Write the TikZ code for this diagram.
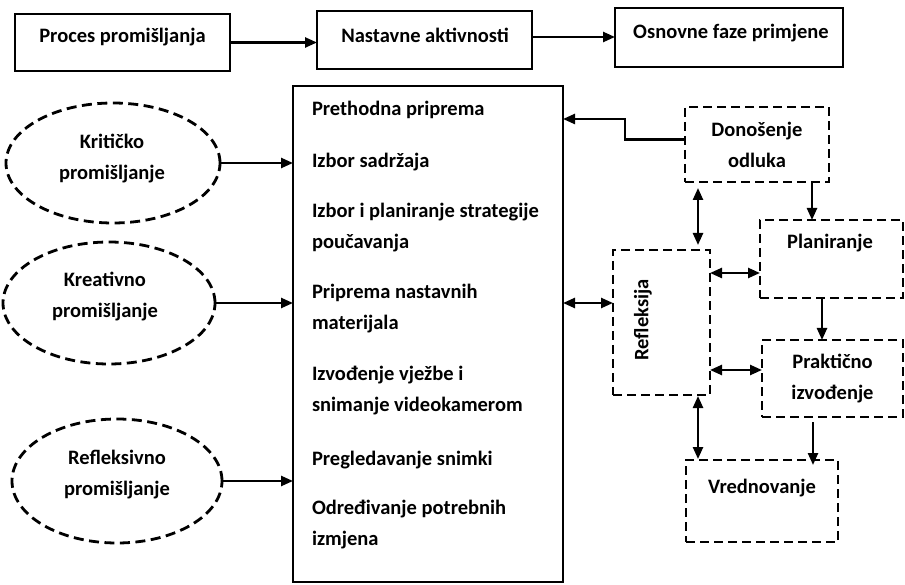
\documentclass[tikz,border=0pt]{standalone}
\usepackage{fontspec}
\setmainfont{Carlito}
\usetikzlibrary{arrows.meta,shapes.geometric}
\begin{document}
\begin{tikzpicture}[x=1pt,y=-1pt,
  every node/.style={font=\fontsize{20.5}{31}\selectfont\bfseries, inner sep=0pt, outer sep=0pt},
  solidbox/.style={draw, line width=2.6pt, rectangle},
  dbox/.style={draw, line width=2.7pt, dash pattern=on 9pt off 5pt, rectangle},
  oval/.style={draw, ellipse, line width=2.8pt, dash pattern=on 10pt off 5.5pt},
  conn/.style={line width=2.4pt, -{Triangle[length=12pt,width=10pt]}},
  dconn/.style={line width=2.4pt, {Triangle[length=12pt,width=10pt]}-{Triangle[length=12pt,width=10pt]}},
  lbl/.style={align=center},
  item/.style={anchor=west, align=left}
]
\useasboundingbox (0,0) rectangle (905,585);

% top row
\node[solidbox, minimum width=215pt, minimum height=57pt] (b1) at (122.5,42.5) {};
\node (t1) at (122.5,37) {Proces promišljanja};
\node[solidbox, minimum width=215pt, minimum height=58pt] (b2) at (424.5,40) {};
\node (t2) at (425,35) {Nastavne aktivnosti};
\node[solidbox, minimum width=228pt, minimum height=59pt] (b3) at (729,37.5) {};
\node (t3) at (731,33) {Osnovne faze primjene};
\draw[conn] (b1.east) -- (b1.east -| b2.west);
\draw[conn] ([yshift=3pt]b2.east) -- ([yshift=3pt]b2.east -| b3.west);

% main box
\node[solidbox, line width=2.9pt, minimum width=270pt, minimum height=496pt] (main) at (428,334) {};
\node[item] (i1) at (312,110) {Prethodna priprema};
\node[item] (i2) at (312,162) {Izbor sadržaja};
\node[item] (i3) at (312,228) {Izbor i planiranje strategije\\poučavanja};
\node[item] (i4) at (312,309) {Priprema nastavnih\\materijala};
\node[item] (i5) at (312,391) {Izvođenje vježbe i\\snimanje videokamerom};
\node[item] (i6) at (312,460) {Pregledavanje snimki};
\node[item] (i7) at (312,525) {Određivanje potrebnih\\izmjena};

% ellipses
\node[oval, minimum width=214pt, minimum height=120pt] (k1) at (113,163) {};
\node[lbl] (k1t) at (112,159) {Kritičko\\promišljanje};
\node[oval, minimum width=212pt, minimum height=122pt] (k2) at (109,303) {};
\node[lbl] (k2t) at (105,297) {Kreativno\\promišljanje};
\node[oval, minimum width=210pt, minimum height=124pt] (k3) at (117,481) {};
\node[lbl] (k3t) at (117,475) {Refleksivno\\promišljanje};
\draw[conn] (k1.east) -- (k1.east -| main.west);
\draw[conn] (k2.east) -- (k2.east -| main.west);
\draw[conn] (k3.east) -- (k3.east -| main.west);

% right side
\node[dbox, minimum width=144pt, minimum height=75pt, lbl] (don) at (757,144.5) {Donošenje\\odluka};
\node[dbox, minimum width=143pt, minimum height=78pt] (pla) at (831.5,259) {};
\node (plat) at (830,243) {Planiranje};
\node[dbox, minimum width=141pt, minimum height=77pt, lbl] (pra) at (832.5,378.5) {Praktično\\izvođenje};
\node[dbox, minimum width=152pt, minimum height=82pt] (vre) at (762,501) {};
\node (vret) at (762,488) {Vrednovanje};
\node[dbox, minimum width=97pt, minimum height=145pt] (ref) at (661.5,322.5) {};
\node[rotate=90] (reft) at (643,320) {Refleksija};

\coordinate (c1) at (625,119);
\draw[conn] ([yshift=5pt]don.west) -| (c1) -- (c1 -| main.east);
\draw[conn] ([xshift=55pt]don.south) -- ([xshift=55pt]don.south |- pla.north);
\draw[conn] ([xshift=-9.5pt]pla.south) -- ([xshift=-9.5pt]pla.south |- pra.north);
\draw[conn] ([xshift=-19.5pt,yshift=-5pt]pra.south) -- ([xshift=-19.5pt,yshift=-5pt]pra.south |- vre.north);

\draw[dconn, shorten <=5pt, shorten >=6pt] ([xshift=36.5pt]ref.north) -- ([xshift=36.5pt]ref.north |- don.south);
\draw[dconn, shorten <=1pt, shorten >=1pt] ([xshift=36.5pt]ref.south) -- ([xshift=36.5pt]ref.south |- vre.north);
\draw[dconn] ([yshift=19.5pt]ref.west) -- ([yshift=19.5pt]ref.west -| main.east);
\draw[dconn] ([yshift=49.5pt]ref.east) -- ([yshift=49.5pt]ref.east -| pla.west);
\draw[dconn] ([yshift=-47.5pt]ref.east) -- ([yshift=-47.5pt]ref.east -| pra.west);
\end{tikzpicture}
\end{document}
